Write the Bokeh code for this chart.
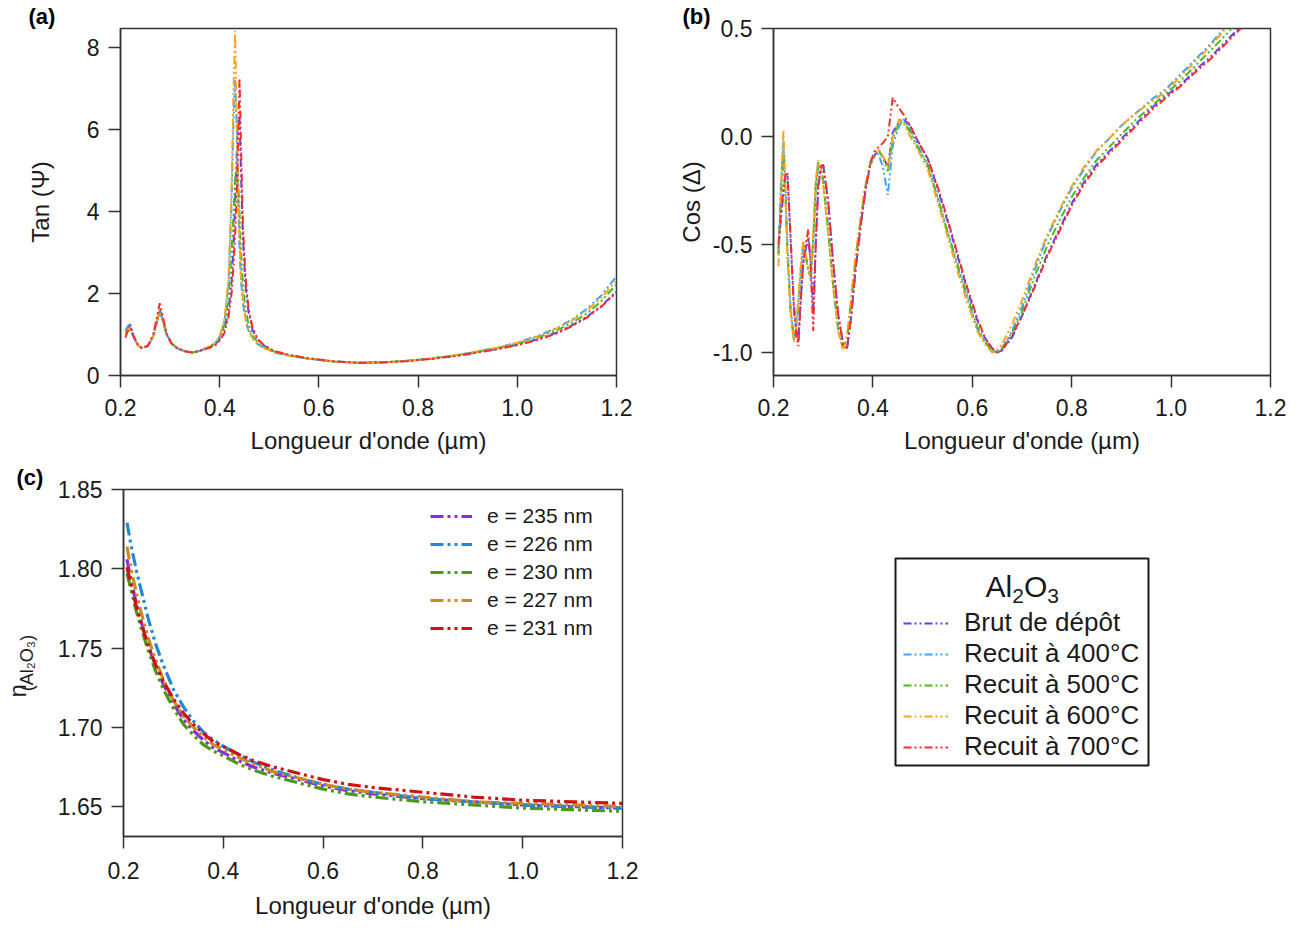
from bokeh.plotting import figure
from bokeh.layouts import column, row
from bokeh.models import (Range1d, FixedTicker, PrintfTickFormatter, Label,
                          Legend, LegendItem, Title)
from bokeh.embed import file_html
from bokeh.resources import INLINE

FONT = "Liberation Sans"

# ---------------- data ----------------
series_ab = ["Brut de dépôt", "Recuit à 400°C", "Recuit à 500°C",
             "Recuit à 600°C", "Recuit à 700°C"]
colors_ab = ["#5544ff", "#3ba3ff", "#4cb81a", "#ffa31a", "#ff2a2a"]

labels_c = ["e = 235 nm", "e = 226 nm", "e = 230 nm", "e = 227 nm", "e = 231 nm"]
colors_c = ["#8a2be2", "#1f88d8", "#4b9a16", "#cc8a22", "#cc1212"]

x_ticks = [0.2, 0.4, 0.6, 0.8, 1.0, 1.2]
ya_ticks = [0, 2, 4, 6, 8]
yb_ticks = [-1.0, -0.5, 0.0, 0.5]
yc_ticks = [1.65, 1.70, 1.75, 1.80, 1.85]

# (a) Tan(Psi)
lam_a = [0.210, 0.215, 0.219, 0.226, 0.235, 0.243, 0.255, 0.266, 0.274, 0.279,
         0.285, 0.293, 0.303, 0.315, 0.330, 0.345, 0.360, 0.375, 0.390, 0.400,
         0.410, 0.418, 0.424, 0.428, 0.431, 0.434, 0.437, 0.440, 0.443, 0.447,
         0.452, 0.458, 0.466, 0.476, 0.490, 0.510, 0.540, 0.580, 0.630, 0.680,
         0.730, 0.780, 0.830, 0.880, 0.920, 0.960, 1.000, 1.040, 1.080, 1.110,
         1.140, 1.170, 1.200]
tan_brut = [1.05, 1.18, 1.27, 0.95, 0.74, 0.67, 0.72, 0.96, 1.36, 1.62,
            1.38, 1.00, 0.78, 0.66, 0.59, 0.56, 0.60, 0.67, 0.74, 0.88,
            1.15, 1.60, 2.30, 3.20, 4.20, 5.30, 6.20, 6.30, 4.90, 3.30,
            2.20, 1.55, 1.12, 0.88, 0.72, 0.59, 0.49, 0.41, 0.34, 0.31,
            0.32, 0.36, 0.41, 0.49, 0.57, 0.65, 0.75, 0.88, 1.05, 1.22,
            1.43, 1.70, 2.05]
tan_400 = [1.10, 1.20, 1.25, 0.95, 0.74, 0.67, 0.72, 0.95, 1.33, 1.58,
           1.35, 1.00, 0.78, 0.66, 0.59, 0.56, 0.60, 0.68, 0.78, 0.95,
           1.35, 2.30, 4.30, 6.30, 7.20, 6.20, 4.40, 3.10, 2.30, 1.75,
           1.35, 1.10, 0.90, 0.77, 0.66, 0.56, 0.48, 0.41, 0.34, 0.31,
           0.32, 0.36, 0.42, 0.50, 0.59, 0.68, 0.80, 0.96, 1.16, 1.36,
           1.62, 1.96, 2.42]
tan_500 = [1.00, 1.08, 1.12, 0.94, 0.74, 0.67, 0.72, 0.95, 1.32, 1.55,
           1.34, 1.00, 0.78, 0.66, 0.59, 0.56, 0.60, 0.68, 0.77, 0.93,
           1.25, 1.90, 3.00, 4.00, 4.80, 5.10, 4.90, 4.00, 3.00, 2.20,
           1.60, 1.25, 0.98, 0.82, 0.69, 0.58, 0.49, 0.41, 0.34, 0.31,
           0.32, 0.36, 0.42, 0.50, 0.58, 0.67, 0.78, 0.92, 1.10, 1.28,
           1.51, 1.82, 2.22]
tan_600 = [1.05, 1.12, 1.15, 0.95, 0.74, 0.67, 0.72, 0.96, 1.36, 1.62,
           1.37, 1.00, 0.78, 0.66, 0.59, 0.56, 0.60, 0.68, 0.78, 0.96,
           1.40, 2.40, 4.60, 7.00, 8.40, 6.50, 4.60, 3.30, 2.40, 1.85,
           1.40, 1.12, 0.92, 0.78, 0.67, 0.57, 0.48, 0.41, 0.34, 0.31,
           0.32, 0.36, 0.42, 0.50, 0.59, 0.68, 0.80, 0.95, 1.15, 1.34,
           1.58, 1.90, 2.32]
tan_700 = [0.92, 1.10, 1.22, 0.98, 0.75, 0.67, 0.72, 1.00, 1.45, 1.76,
           1.45, 1.02, 0.78, 0.66, 0.59, 0.56, 0.60, 0.66, 0.72, 0.85,
           1.05, 1.45, 2.00, 2.70, 3.40, 4.30, 5.60, 7.25, 5.60, 3.60,
           2.40, 1.65, 1.18, 0.90, 0.73, 0.60, 0.50, 0.42, 0.35, 0.31,
           0.32, 0.35, 0.41, 0.48, 0.56, 0.64, 0.74, 0.86, 1.03, 1.20,
           1.41, 1.68, 2.03]

# (b) Cos(Delta)
lam_b = [0.210, 0.215, 0.220, 0.224, 0.228, 0.234, 0.241, 0.246, 0.250, 0.255,
         0.260, 0.265, 0.270, 0.275, 0.280, 0.285, 0.290, 0.295, 0.300, 0.310,
         0.320, 0.330, 0.340, 0.348, 0.356, 0.365, 0.375, 0.385, 0.395, 0.403,
         0.411, 0.420, 0.430, 0.440, 0.453, 0.462, 0.475, 0.490, 0.510, 0.530,
         0.550, 0.570, 0.590, 0.610, 0.625, 0.640, 0.650, 0.660, 0.680, 0.700,
         0.725, 0.750, 0.775, 0.800, 0.825, 0.850, 0.875, 0.900, 0.930, 0.960,
         0.990, 1.020, 1.050, 1.080, 1.110, 1.140]
cos_brut = [-0.52, -0.38, -0.26, -0.19, -0.17, -0.45, -0.78, -0.90, -0.95, -0.75,
            -0.58, -0.52, -0.47, -0.58, -0.80, -0.50, -0.24, -0.15, -0.13, -0.30,
            -0.58, -0.82, -0.96, -0.98, -0.84, -0.62, -0.42, -0.25, -0.13, -0.09,
            -0.06, -0.09, -0.14, 0.02, 0.07, 0.08, 0.05, -0.02, -0.10, -0.24,
            -0.39, -0.55, -0.71, -0.85, -0.93, -0.98, -1.00, -0.99, -0.93, -0.83,
            -0.69, -0.55, -0.43, -0.31, -0.21, -0.13, -0.07, -0.01, 0.06, 0.13,
            0.19, 0.24, 0.31, 0.37, 0.44, 0.51]
cos_400 = [-0.54, -0.22, -0.02, -0.22, -0.50, -0.78, -0.94, -0.90, -0.78, -0.62,
           -0.50, -0.55, -0.63, -0.66, -0.50, -0.25, -0.14, -0.14, -0.20, -0.42,
           -0.68, -0.88, -0.98, -0.94, -0.78, -0.58, -0.40, -0.24, -0.13, -0.09,
           -0.08, -0.14, -0.27, -0.04, 0.05, 0.08, 0.03, -0.04, -0.13, -0.28,
           -0.44, -0.60, -0.75, -0.89, -0.95, -0.99, -1.00, -0.98, -0.90, -0.79,
           -0.62, -0.47, -0.35, -0.24, -0.15, -0.07, -0.01, 0.05, 0.11, 0.17,
           0.22, 0.29, 0.36, 0.43, 0.51, 0.60]
cos_500 = [-0.55, -0.30, -0.08, -0.28, -0.55, -0.80, -0.94, -0.88, -0.76, -0.61,
           -0.49, -0.55, -0.62, -0.64, -0.47, -0.22, -0.12, -0.14, -0.21, -0.44,
           -0.69, -0.89, -0.98, -0.93, -0.77, -0.57, -0.39, -0.23, -0.12, -0.08,
           -0.06, -0.10, -0.16, -0.01, 0.07, 0.07, 0.02, -0.05, -0.13, -0.28,
           -0.44, -0.59, -0.74, -0.88, -0.95, -0.99, -1.00, -0.98, -0.91, -0.81,
           -0.65, -0.51, -0.39, -0.28, -0.19, -0.11, -0.05, 0.01, 0.08, 0.14,
           0.20, 0.26, 0.33, 0.40, 0.47, 0.55]
cos_600 = [-0.60, -0.25, 0.03, -0.25, -0.55, -0.80, -0.95, -0.88, -0.75, -0.60,
           -0.48, -0.55, -0.62, -0.65, -0.45, -0.20, -0.11, -0.15, -0.22, -0.45,
           -0.70, -0.90, -0.99, -0.92, -0.75, -0.55, -0.38, -0.22, -0.12, -0.08,
           -0.06, -0.09, -0.15, 0.00, 0.08, 0.06, 0.00, -0.06, -0.15, -0.30,
           -0.46, -0.62, -0.77, -0.90, -0.96, -1.00, -0.99, -0.96, -0.87, -0.76,
           -0.60, -0.46, -0.34, -0.23, -0.14, -0.065, -0.01, 0.05, 0.11, 0.16,
           0.21, 0.28, 0.35, 0.42, 0.50, 0.58]
cos_700 = [-0.50, -0.35, -0.25, -0.18, -0.165, -0.45, -0.80, -0.92, -0.97, -0.75,
           -0.58, -0.50, -0.43, -0.62, -0.90, -0.50, -0.22, -0.14, -0.13, -0.30,
           -0.58, -0.82, -0.96, -0.98, -0.84, -0.62, -0.42, -0.25, -0.12, -0.07,
           -0.05, -0.03, 0.00, 0.18, 0.13, 0.10, 0.05, -0.02, -0.10, -0.23,
           -0.38, -0.54, -0.70, -0.84, -0.93, -0.98, -1.00, -0.99, -0.92, -0.83,
           -0.70, -0.56, -0.44, -0.32, -0.22, -0.14, -0.08, -0.02, 0.05, 0.12,
           0.18, 0.235, 0.30, 0.36, 0.43, 0.50]

# (c) refractive index
lam_c = [0.207, 0.215, 0.225, 0.235, 0.250, 0.265, 0.280, 0.300, 0.320, 0.340,
         0.360, 0.380, 0.400, 0.430, 0.460, 0.500, 0.550, 0.600, 0.650, 0.700,
         0.800, 0.900, 1.000, 1.100, 1.200]
n_235 = [1.806, 1.793, 1.779, 1.767, 1.751, 1.738, 1.727, 1.715, 1.705, 1.698,
         1.692, 1.687, 1.684, 1.679, 1.675, 1.671, 1.667, 1.663, 1.660, 1.658,
         1.655, 1.653, 1.651, 1.650, 1.649]
n_226 = [1.829, 1.815, 1.800, 1.787, 1.768, 1.752, 1.739, 1.724, 1.713, 1.704,
         1.697, 1.692, 1.688, 1.683, 1.678, 1.673, 1.668, 1.664, 1.661, 1.659,
         1.655, 1.653, 1.651, 1.650, 1.649]
n_230 = [1.797, 1.787, 1.774, 1.763, 1.748, 1.735, 1.724, 1.712, 1.702, 1.695,
         1.689, 1.685, 1.682, 1.677, 1.673, 1.669, 1.665, 1.661, 1.658, 1.656,
         1.653, 1.651, 1.649, 1.648, 1.647]
n_227 = [1.814, 1.800, 1.786, 1.773, 1.756, 1.742, 1.730, 1.717, 1.707, 1.700,
         1.694, 1.689, 1.686, 1.681, 1.677, 1.672, 1.668, 1.664, 1.661, 1.659,
         1.656, 1.653, 1.652, 1.651, 1.650]
n_231 = [1.801, 1.790, 1.777, 1.766, 1.751, 1.739, 1.729, 1.718, 1.709, 1.702,
         1.696, 1.691, 1.688, 1.683, 1.679, 1.675, 1.671, 1.667, 1.664, 1.662,
         1.659, 1.656, 1.654, 1.653, 1.652]

tan_series = [tan_brut, tan_400, tan_500, tan_600, tan_700]
cos_series = [cos_brut, cos_400, cos_500, cos_600, cos_700]
n_series = [n_235, n_226, n_230, n_227, n_231]

# ---------------- styling helpers ----------------
AX_COL = "#333333"
TXT_COL = "#1a1a1a"
DASH_AB = "8 3 2 3 2 3"
DASH_C = "13 4 3 4 3 4"
XTITLE = "Longueur d'onde (µm)"


def style(p, yfmt, yticks, xs1, xs2, ys1, ys2):
    p.xaxis.ticker = FixedTicker(ticks=x_ticks)
    p.xaxis.formatter = PrintfTickFormatter(format="%.1f")
    p.yaxis.ticker = FixedTicker(ticks=yticks)
    p.yaxis.formatter = PrintfTickFormatter(format=yfmt)
    for ax in list(p.xaxis) + list(p.yaxis):
        ax.major_tick_in = 0
        ax.major_tick_out = 12
        ax.minor_tick_in = 0
        ax.minor_tick_out = 0
        ax.axis_line_color = AX_COL
        ax.axis_line_width = 1.5
        ax.major_tick_line_color = AX_COL
        ax.major_tick_line_width = 1.5
        ax.major_label_text_font = FONT
        ax.major_label_text_font_size = "23px"
        ax.major_label_text_color = TXT_COL
        ax.axis_label_text_font = FONT
        ax.axis_label_text_font_size = "24px"
        ax.axis_label_text_font_style = "normal"
        ax.axis_label_text_color = TXT_COL
    p.xaxis.major_label_standoff = xs1
    p.xaxis.axis_label_standoff = xs2
    p.yaxis.major_label_standoff = ys1
    p.yaxis.axis_label_standoff = ys2
    p.xgrid.visible = False
    p.ygrid.visible = False
    p.outline_line_color = AX_COL
    p.outline_line_width = 1.5
    p.background_fill_color = "white"
    p.border_fill_color = "white"


def panel_title(txt, offset):
    return Title(text=txt, align="left", offset=offset, standoff=0,
                 text_font=FONT, text_font_size="22px", text_font_style="bold",
                 text_color="black")


# ---------------- (a) ----------------
fa = figure(width=660, height=458, x_range=Range1d(0.2, 1.2), y_range=Range1d(0, 8.46),
            toolbar_location=None, output_backend="svg", frame_align=False,
            min_border_left=120, min_border_right=44, min_border_top=28, min_border_bottom=83,
            x_axis_label=XTITLE, y_axis_label="Tan (Ψ)")
fa.title = panel_title("(a)", -92)
style(fa, "%d", ya_ticks, 11, 8, 9, 30)
for ys, c in zip(tan_series, colors_ab):
    fa.line(lam_a, ys, line_color=c, line_width=2, line_dash=DASH_AB)

# ---------------- (b) ----------------
fb = figure(width=652, height=458, x_range=Range1d(0.2, 1.2), y_range=Range1d(-1.106, 0.5),
            toolbar_location=None, output_backend="svg", frame_align=False,
            min_border_left=113, min_border_right=42, min_border_top=28, min_border_bottom=83,
            x_axis_label=XTITLE, y_axis_label="Cos (Δ)")
fb.title = panel_title("(b)", -91)
style(fb, "%.1f", yb_ticks, 11, 8, 9, 5)
for ys, c in zip(cos_series, colors_ab):
    fb.line(lam_b, ys, line_color=c, line_width=2, line_dash=DASH_AB)

# ---------------- (c) ----------------
fc = figure(width=660, height=470, x_range=Range1d(0.2, 1.2), y_range=Range1d(1.6311, 1.85),
            toolbar_location=None, output_backend="svg", frame_align=False,
            min_border_left=123, min_border_right=38, min_border_top=31, min_border_bottom=92,
            x_axis_label=XTITLE, y_axis_label="(Al₂O₃)")
fc.title = panel_title("(c)", -107)
style(fc, "%.2f", yc_ticks, 13, 10, 9, 18)
fc.yaxis.axis_label_text_font_size = "18px"
rends_c = []
for ys, c in zip(n_series, colors_c):
    rends_c.append(fc.line(lam_c, ys, line_color=c, line_width=3.2, line_dash=DASH_C))
fc.add_layout(Title(text="n", align="left", offset=139, standoff=-34,
                    text_font=FONT, text_font_size="24px", text_font_style="normal",
                    text_color=TXT_COL), "left")
leg_c = Legend(items=[LegendItem(label=l, renderers=[r]) for l, r in zip(labels_c, rends_c)],
               location=(307, 196), border_line_color=None, background_fill_alpha=0,
               glyph_width=42, glyph_height=24, label_height=24, spacing=4, padding=4,
               margin=0, label_standoff=15, label_text_font=FONT,
               label_text_font_size="21px", label_text_color=TXT_COL)
fc.add_layout(leg_c)

# ---------------- legend box ----------------
fl = figure(width=652, height=470, x_range=Range1d(0, 1), y_range=Range1d(0, 1),
            x_axis_type=None, y_axis_type=None, toolbar_location=None, output_backend="svg",
            frame_align=False,
            min_border_left=235, min_border_right=164, min_border_top=100, min_border_bottom=163)
fl.outline_line_color = "#1a1a1a"
fl.outline_line_width = 2
fl.border_fill_color = "white"
rends_l = [fl.line(lam_b, ys, line_color=c, line_width=2, line_dash=DASH_AB, visible=False)
           for ys, c in zip(cos_series, colors_ab)]
leg_l = Legend(items=[LegendItem(label=s, renderers=[r]) for s, r in zip(series_ab, rends_l)],
               location=(8, 3), border_line_color=None, background_fill_alpha=0,
               glyph_width=45, glyph_height=30, label_height=30, spacing=0, padding=0,
               margin=0, label_standoff=16, label_text_font=FONT,
               label_text_font_size="26px", label_text_color=TXT_COL)
fl.add_layout(leg_l)
for txt, x, y, fs in [("Al", 0.3557, 0.865, "30px"), ("2", 0.4613, 0.821, "21px"),
                      ("O", 0.5075, 0.865, "30px"), ("3", 0.6000, 0.821, "21px")]:
    fl.add_layout(Label(x=x, y=y, text=txt, text_font=FONT, text_font_size=fs,
                        text_color=TXT_COL, text_align="left", text_baseline="alphabetic"))

layout = column(row(fa, fb), row(fc, fl))
open("out.html", "w").write(file_html(layout, INLINE))
